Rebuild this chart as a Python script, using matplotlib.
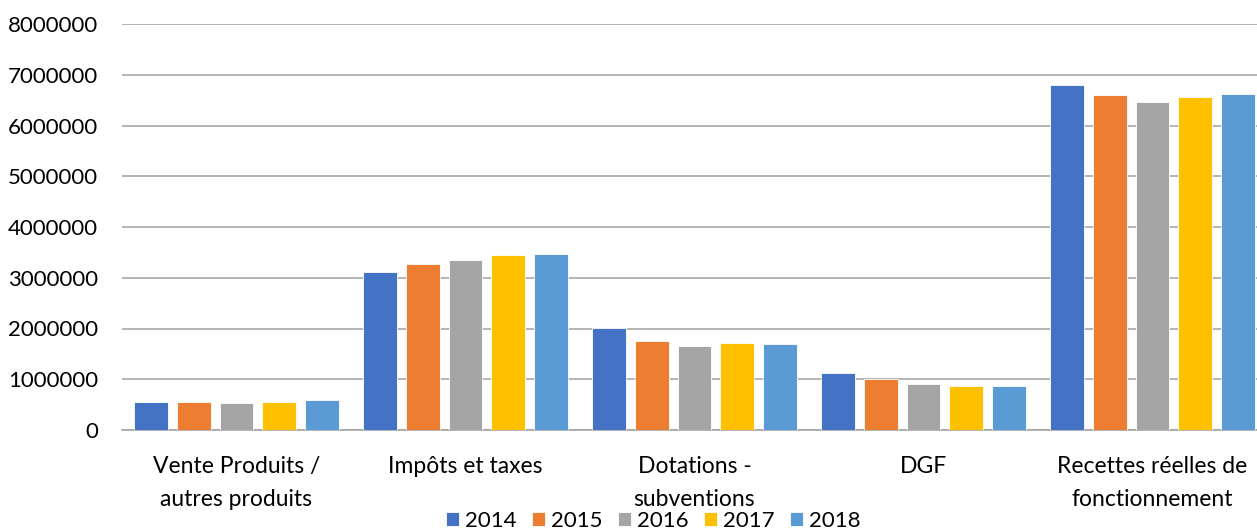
import matplotlib
matplotlib.use("Agg")
import matplotlib.pyplot as plt
import numpy as np

CATEGORIES = ["Vente Produits /\nautres produits", "Impôts et taxes", "Dotations -\nsubventions",
              "DGF", "Recettes réelles de\nfonctionnement"]
YEARS = ["2014", "2015", "2016", "2017", "2018"]
V2014 = [545000, 3105000, 2010000, 1120000, 6800000]
V2015 = [550000, 3280000, 1750000, 1010000, 6600000]
V2016 = [540000, 3350000, 1660000, 910000, 6460000]
V2017 = [550000, 3440000, 1710000, 870000, 6560000]
V2018 = [600000, 3460000, 1700000, 870000, 6630000]
COLORS = ["#4472C4", "#ED7D31", "#A5A5A5", "#FFC000", "#5B9BD5"]

plt.rcParams["font.family"] = ["Lato", "DejaVu Sans"]

W, H = 1257, 529
fig = plt.figure(figsize=(W / 100, H / 100), dpi=100)
ax = fig.add_axes([122 / W, (H - 430) / H, 1145 / W, 406 / H])

x = np.arange(len(CATEGORIES))
pitch = 0.186
width = 0.148
for i, (yr, vals) in enumerate(zip(YEARS, [V2014, V2015, V2016, V2017, V2018])):
    ax.bar(x + (i - 2) * pitch, vals, width, color=COLORS[i], label=yr,
           edgecolor="white", linewidth=0.6, zorder=3)

ax.set_xlim(-0.5, len(CATEGORIES) - 0.5)
ax.set_ylim(0, 8000000)
ax.set_yticks(np.arange(0, 8000001, 1000000))
ax.set_yticklabels([str(v) for v in range(0, 8000001, 1000000)])
ax.set_xticks(x)
ax.set_xticklabels(CATEGORIES, linespacing=1.7)
ax.tick_params(axis="y", length=0, pad=17, labelsize=16)
ax.tick_params(axis="x", length=0, pad=19, labelsize=16.5)
ax.grid(axis="y", color="#a0a0a0", linewidth=1.1, zorder=0)
for s in ["top", "right", "left"]:
    ax.spines[s].set_visible(False)
ax.spines["bottom"].set_color("#a0a0a0")
ax.spines["bottom"].set_linewidth(1.1)

fig.legend(loc="center", bbox_to_anchor=(653 / W, 1 - 521 / H), ncol=5, frameon=False,
           fontsize=16, handlelength=0.6, handleheight=0.6, handletextpad=0.25,
           columnspacing=0.7, borderpad=0)

fig.savefig("out.png", dpi=100)
